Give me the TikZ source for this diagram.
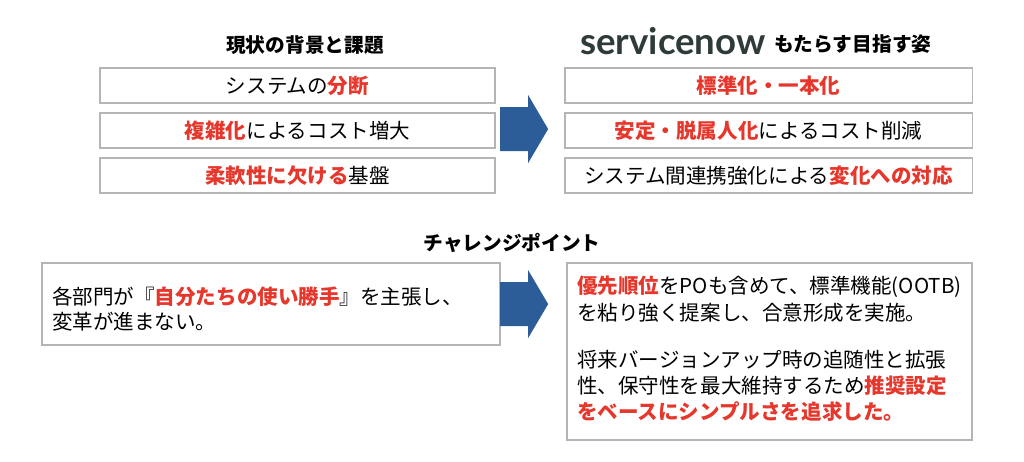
\documentclass[tikz,border=0pt]{standalone}
\usepackage{fontspec}
\setmainfont{Noto Sans CJK JP}
\setsansfont{Lato}
\usetikzlibrary{positioning}
\definecolor{hired}{HTML}{E5372C}
\definecolor{arrowblue}{HTML}{2C5D98}
\definecolor{boxgray}{HTML}{B5B5B5}
\definecolor{snowgray}{HTML}{2F3B3A}
\newcommand{\hi}[1]{\textbf{\textcolor{hired}{#1}}}
\tikzset{
  box/.style={draw=boxgray, line width=0.8pt, minimum height=0.875cm, inner sep=0pt, font=\fontsize{14.6}{18}\selectfont},
  lbox/.style={box, minimum width=9.875cm},
  rbox/.style={box, minimum width=10.175cm},
  ttl/.style={font=\bfseries\fontsize{14}{17}\selectfont},
  txt/.style={anchor=west, inner sep=0pt, font=\fontsize{14.6}{18}\selectfont},
  blk/.style={fill=arrowblue},
}
\newcommand{\blockarrow}[2]{% x of tail, y of centre
  \fill[blk] (#1,#2+0.55) -- (#1+0.7,#2+0.55) -- (#1+0.7,#2+0.85) -- (#1+1.2,#2)
    -- (#1+0.7,#2-0.85) -- (#1+0.7,#2-0.55) -- (#1,#2-0.55) -- cycle;}
\begin{document}
\begin{tikzpicture}[x=0.025cm,y=-0.025cm]
  \useasboundingbox (0,0) rectangle (1024,461);

  %%%%%%%%%% Titoli %%%%%%%%%%
  \node[ttl] (now) at (305,45) {現状の背景と課題};
  \node[font=\bfseries\sffamily\fontsize{26}{28}\selectfont, text=snowgray, anchor=west, inner sep=0pt] (logo) at (580,41) {servicenow};
  \node[ttl, anchor=west, inner sep=0pt] (goal) at (774,44) {もたらす目指す姿};
  \node[ttl] (chal) at (512,243) {チャレンジポイント};

  %%%%%%%%%% Riquadri %%%%%%%%%%
  \node[lbox] (l1) at (297.5,85.5) {システムの\hi{分断}};
  \node[lbox] (l2) at (297.5,130.5) {\hi{複雑化}によるコスト増大};
  \node[lbox] (l3) at (297.5,175.5) {\hi{柔軟性に欠ける}基盤};
  \node[rbox] (r1) at (768.5,85.5) {\hi{標準化・一本化}};
  \node[rbox] (r2) at (768.5,130.5) {\hi{安定・脱属人化}によるコスト削減};
  \node[rbox] (r3) at (768.5,175.5) {システム間連携強化による\hi{変化への対応}};

  \draw[boxgray, line width=0.8pt] (42,263) rectangle (500,345);
  \node[txt] (p1) at (52,297) {各部門が『\hi{自分たちの使い勝手}』を主張し、};
  \node[txt] (p2) at (52,322) {変革が進まない。};

  \draw[boxgray, line width=0.8pt] (567,263) rectangle (972,440);
  \node[txt] (s1) at (577,287) {\hi{優先順位}をPOも含めて、標準機能(OOTB)};
  \node[txt] (s2) at (577,313) {を粘り強く提案し、合意形成を実施。};
  \node[txt] (s3) at (577,360) {将来バージョンアップ時の追随性と拡張};
  \node[txt] (s4) at (577,386) {性、保守性を最大維持するため\hi{推奨設定}};
  \node[txt] (s5) at (577,412) {\hi{をベースにシンプルさを追求した。}};

  %%%%%%%%% Frecce %%%%%%%%%
  \begin{scope}[x=1cm,y=1cm]
    \blockarrow{12.5}{-3.225}
    \blockarrow{12.5}{-7.6}
  \end{scope}
\end{tikzpicture}
\end{document}
